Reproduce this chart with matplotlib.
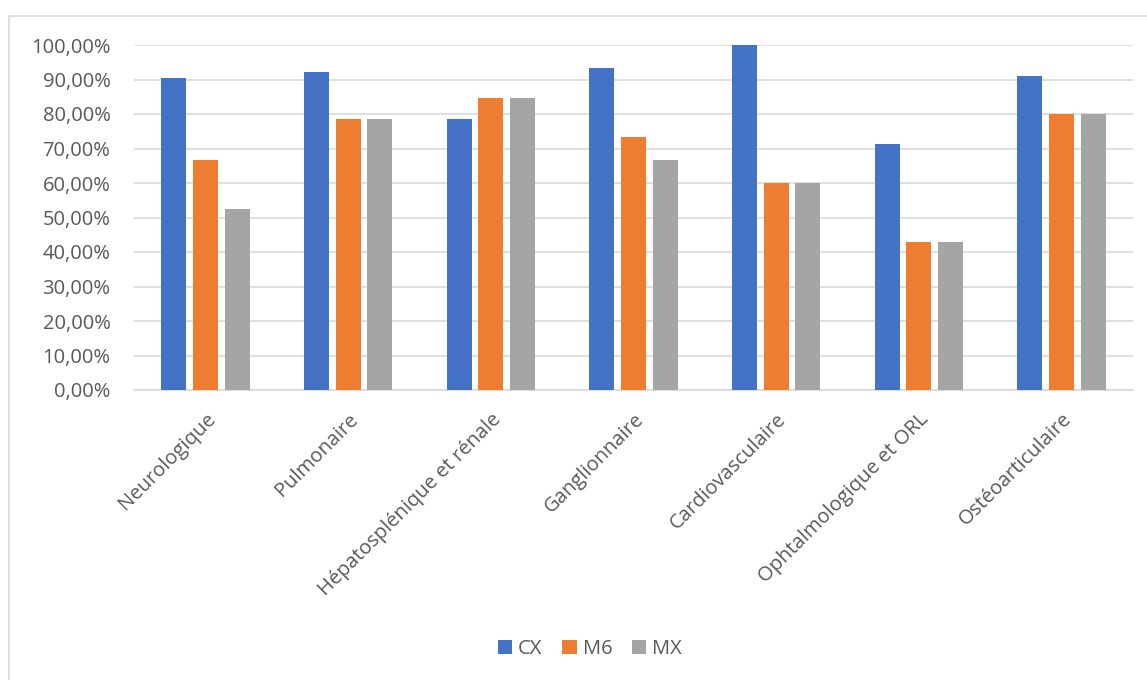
import matplotlib
matplotlib.use("Agg")
import matplotlib.pyplot as plt
import matplotlib.transforms as mtransforms
import numpy as np
from matplotlib.ticker import FuncFormatter
from matplotlib.patches import Rectangle

categories = ["Neurologique", "Pulmonaire", "Hépatosplénique et rénale", "Ganglionnaire",
              "Cardiovasculaire", "Ophtalmologique et ORL", "Ostéoarticulaire"]
cx = [90.48, 92.31, 78.57, 93.33, 100.0, 71.43, 90.91]
m6 = [66.67, 78.57, 84.62, 73.33, 60.0, 42.86, 80.0]
mx = [52.38, 78.57, 84.62, 66.67, 60.0, 42.86, 80.0]
series_names = ["CX", "M6", "MX"]
colors = ["#4472C4", "#ED7D31", "#A5A5A5"]

plt.rcParams['font.family'] = ['Open Sans', 'DejaVu Sans']
W, H = 1147, 680
fig = plt.figure(figsize=(W / 100, H / 100), dpi=100)
fig.patch.set_facecolor("white")

# chart border
fig.patches.append(Rectangle((9 / W, -0.1), 1.2, (H - 16) / H + 0.1, transform=fig.transFigure,
                             fill=False, edgecolor="#D9D9D9", linewidth=1.2, zorder=0))

left, right, top, bottom = 134, 1133, 45, 390
ax = fig.add_axes([left / W, 1 - bottom / H, (right - left) / W, (bottom - top) / H])

x = np.arange(len(categories))
bw = 0.175
step = 0.222
for i, (vals, c, name) in enumerate(zip([cx, m6, mx], colors, series_names)):
    ax.bar(x + (i - 1) * step, vals, width=bw, color=c, label=name, zorder=3)

ax.set_xlim(-0.5, len(categories) - 0.5)
ax.set_ylim(0, 100)
ax.set_yticks(np.arange(0, 101, 10))
ax.yaxis.set_major_formatter(FuncFormatter(lambda v, p: f"{v:.2f}".replace(".", ",") + "%"))
ax.grid(axis="y", color="#D9D9D9", linewidth=1.2, zorder=0)
for s in ["top", "right", "left"]:
    ax.spines[s].set_visible(False)
ax.spines["bottom"].set_color("#D9D9D9")
ax.spines["bottom"].set_linewidth(1.2)
ax.tick_params(axis="both", length=0, colors="#595959", labelsize=14.5)
ax.tick_params(axis="y", pad=17)

ax.set_xticks(x)
ax.set_xticklabels(categories, rotation=45, ha="right", rotation_mode="anchor")
offset = mtransforms.ScaledTranslation(-6 / 100, 0, fig.dpi_scale_trans)
for lbl in ax.get_xticklabels():
    lbl.set_color("#595959")
    lbl.set_transform(lbl.get_transform() + offset)
ax.tick_params(axis="x", pad=14)

leg = fig.legend(loc="center", bbox_to_anchor=(590 / W, 1 - 649 / H), ncol=3, frameon=False,
                 fontsize=14.5, handlelength=0.7, handleheight=0.7, handletextpad=0.3,
                 columnspacing=1.0)
for t in leg.get_texts():
    t.set_color("#595959")

fig.savefig("out.png", dpi=100, facecolor="white")
